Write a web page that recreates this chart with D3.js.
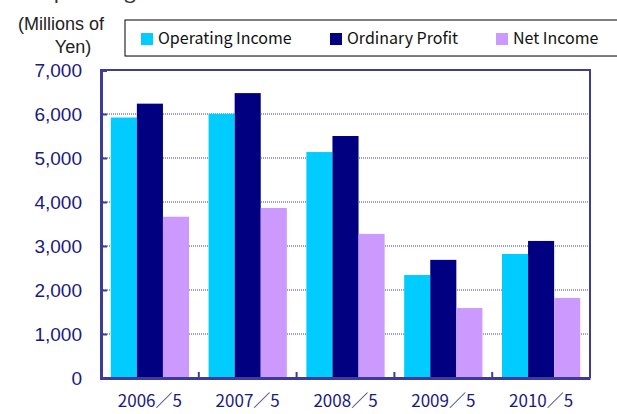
<!DOCTYPE html>
<html>
<head>
<meta charset="utf-8">
<script src="https://cdn.jsdelivr.net/npm/d3@7"></script>
<style>
  body { margin: 0; background: #fff; }
  svg text { font-family: "Noto Sans CJK JP", "Liberation Sans", sans-serif; }
</style>
</head>
<body>
<div id="chart"></div>
<script>
var years = ['2006／5', '2007／5', '2008／5', '2009／5', '2010／5'];
var seriesNames = ['Operating Income', 'Ordinary Profit', 'Net Income'];
var operatingIncome = [5920, 6005, 5135, 2340, 2820];
var ordinaryProfit = [6235, 6475, 5500, 2685, 3115];
var netIncome = [3665, 3865, 3275, 1590, 1820];
var yTicks = [0, 1000, 2000, 3000, 4000, 5000, 6000, 7000];

var colors = ['#00ccff', '#000080', '#cc99ff'];
var axisColor = '#3c3c9c';
var latin = '"Liberation Sans", Arial, sans-serif';

var width = 617, height = 414;
var margin = {left: 101, right: 27, top: 70, bottom: 36};

var svg = d3.select('#chart').append('svg')
  .attr('width', width)
  .attr('height', height);

// title runs off the top of the picture, only descenders show
svg.append('text')
  .attr('x', 38).attr('y', -2)
  .attr('font-size', 21)
  .attr('fill', '#333')
  .text('Operating Results');

// unit label
svg.append('text')
  .attr('x', 61).attr('y', 30)
  .attr('text-anchor', 'middle')
  .attr('font-size', 18)
  .style('font-family', latin)
  .attr('fill', '#222')
  .text('(Millions of');
svg.append('text')
  .attr('x', 73).attr('y', 53)
  .attr('text-anchor', 'middle')
  .attr('font-size', 18)
  .style('font-family', latin)
  .attr('fill', '#222')
  .text('Yen)');

var x0 = d3.scaleBand()
  .domain(years)
  .range([margin.left, width - margin.right])
  .paddingInner(0.2)
  .paddingOuter(0.1);

var x1 = d3.scaleBand()
  .domain(seriesNames)
  .range([0, x0.bandwidth()]);

var y = d3.scaleLinear()
  .domain([0, 7000])
  .range([height - margin.bottom, margin.top]);

// gridlines
svg.append('g')
  .selectAll('line')
  .data(yTicks.slice(1, -1))
  .enter()
  .append('line')
  .attr('x1', margin.left).attr('x2', width - margin.right)
  .attr('y1', d => y(d)).attr('y2', d => y(d))
  .attr('stroke', '#8080c0')
  .attr('stroke-width', 1.5)
  .attr('stroke-dasharray', '1,1');

// bars
var data = [operatingIncome, ordinaryProfit, netIncome];
var groups = svg.append('g')
  .selectAll('g')
  .data(years)
  .enter()
  .append('g')
  .attr('transform', d => 'translate(' + x0(d) + ',0)');

groups.selectAll('rect')
  .data((d, i) => seriesNames.map((s, j) => ({s: s, v: data[j][i], j: j})))
  .enter()
  .append('rect')
  .attr('x', d => x1(d.s))
  .attr('width', x1.bandwidth())
  .attr('y', d => y(d.v))
  .attr('height', d => y(0) - y(d.v))
  .attr('fill', d => colors[d.j]);

// frame: top and right
svg.append('path')
  .attr('d', 'M' + margin.left + ',' + y(7000) + 'H' + (width - margin.right) + 'V' + y(0))
  .attr('fill', 'none')
  .attr('stroke', axisColor)
  .attr('stroke-width', 2);

// y axis
var yAxis = d3.axisLeft(y)
  .tickValues(yTicks)
  .tickSize(-6)
  .tickPadding(19)
  .tickFormat(d3.format(','));
var ga = svg.append('g')
  .attr('transform', 'translate(' + margin.left + ',0)')
  .call(yAxis);
ga.select('.domain').attr('stroke', axisColor).attr('stroke-width', 3);
ga.selectAll('.tick line').attr('stroke', axisColor).attr('stroke-width', 2);
ga.selectAll('.tick text')
  .attr('fill', '#1a1a80')
  .attr('font-size', 19)
  .style('font-family', latin);

// x axis
var xAxis = d3.axisBottom(x0).tickSize(0).tickPadding(17);
var gx = svg.append('g')
  .attr('transform', 'translate(0,' + y(0) + ')')
  .call(xAxis);
gx.select('.domain').attr('stroke', axisColor).attr('stroke-width', 3);
gx.selectAll('.tick text')
  .attr('fill', '#1a1a80')
  .attr('font-size', 17);

// category separator ticks
svg.append('g')
  .selectAll('line')
  .data(years.slice(1))
  .enter()
  .append('line')
  .attr('x1', d => x0(d) - x0.step() * x0.paddingInner() / 2)
  .attr('x2', d => x0(d) - x0.step() * x0.paddingInner() / 2)
  .attr('y1', y(0)).attr('y2', y(0) - 6)
  .attr('stroke', axisColor)
  .attr('stroke-width', 2);

// legend
var legend = svg.append('g');
legend.append('rect')
  .attr('x', 125).attr('y', 20)
  .attr('width', 500).attr('height', 36)
  .attr('fill', '#fff')
  .attr('stroke', '#000')
  .attr('stroke-width', 1);
legend.append('line')
  .attr('x1', 126).attr('x2', 625)
  .attr('y1', 56.5).attr('y2', 56.5)
  .attr('stroke', '#777')
  .attr('stroke-width', 1);

var legendX = [141, 330, 496];
var items = legend.selectAll('.item')
  .data(seriesNames)
  .enter()
  .append('g')
  .attr('class', 'item')
  .attr('transform', (d, i) => 'translate(' + legendX[i] + ',33)');
items.append('rect')
  .attr('width', 12).attr('height', 12)
  .attr('fill', (d, i) => colors[i]);
items.append('text')
  .attr('x', 17).attr('y', 11)
  .attr('font-size', 16)
  .attr('fill', '#111')
  .text(d => d);
</script>
</body>
</html>
